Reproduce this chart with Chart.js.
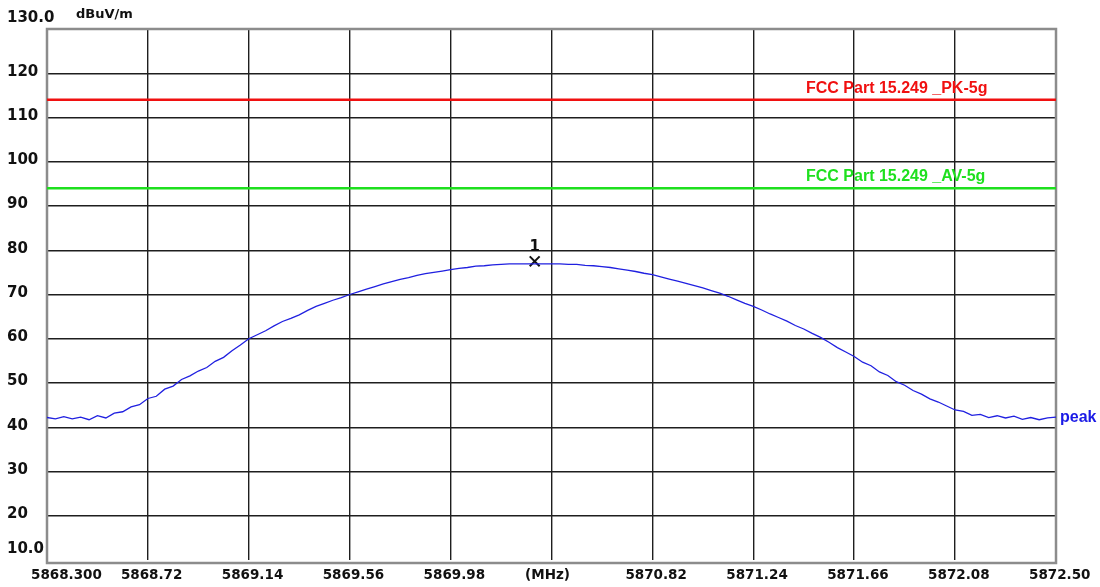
<!DOCTYPE html>
<html>
<head>
<meta charset="utf-8">
<script src="https://cdn.jsdelivr.net/npm/chart.js@4.4.1/dist/chart.umd.min.js"></script>
<style>
body{margin:0;background:#fff;}
canvas{display:block;}
</style>
</head>
<body>
<canvas id="plot" width="1100" height="587"></canvas>
<script>
// sweep: start freq + step (MHz), levels (dBuV/m)
var freqStart = 5868.3;
var freqStep = 0.035;
var level = [
 42.2,41.9,42.4,41.9,42.3,41.7,42.6,42.1,43.2,43.5,
 44.6,45.1,46.5,47.0,48.6,49.3,50.8,51.6,52.7,53.5,
 54.9,55.8,57.3,58.6,60.0,60.9,61.8,62.9,63.9,64.6,
 65.4,66.4,67.3,68.0,68.7,69.3,70.0,70.6,71.2,71.8,
 72.4,72.9,73.4,73.8,74.3,74.7,75.0,75.3,75.6,75.9,
 76.1,76.4,76.5,76.7,76.8,76.9,76.9,76.9,76.9,76.9,
 76.9,76.9,76.8,76.8,76.6,76.5,76.3,76.1,75.8,75.5,
 75.2,74.8,74.5,74.0,73.5,73.0,72.5,72.0,71.5,70.9,
 70.3,69.6,68.8,68.0,67.3,66.5,65.6,64.8,64.0,63.0,
 62.2,61.2,60.3,59.2,58.0,57.0,56.0,54.7,53.9,52.5,
 51.7,50.3,49.5,48.3,47.5,46.4,45.7,44.8,43.9,43.6,
 42.7,42.9,42.2,42.6,42.1,42.5,41.8,42.2,41.7,42.1,
 42.3
];

var xTicks = [5868.30,5868.72,5869.14,5869.56,5869.98,5870.40,5870.82,5871.24,5871.66,5872.08,5872.50];
var xTickLabels = ['5868.300','5868.72','5869.14','5869.56','5869.98','(MHz)','5870.82','5871.24','5871.66','5872.08','5872.50'];
var yTicks = [10,20,30,40,50,60,70,80,90,100,110,120,130];
var yTickLabels = ['10.0','20','30','40','50','60','70','80','90','100','110','120','130.0'];

var limitPK = 114;
var limitAV = 94;
var limitPKName = 'FCC Part 15.249 _PK-5g';
var limitAVName = 'FCC Part 15.249 _AV-5g';
var markerFreq = 5870.33;
var markerLevel = 77.5;

var xMin = xTicks[0], xMax = xTicks[xTicks.length-1];

var trace = [];
for(var i=0;i<level.length;i++){
	trace.push({x:freqStart+i*freqStep, y:level[i]});
}

function edgeGrid(c){
	return (c.index===0 || c.index===c.chart.scales[c.scale.axis].ticks.length-1) ? 'rgba(0,0,0,0)' : '#1e1e1e';
}

var textPlugin = {
	id:'texts',
	beforeDatasetsDraw:function(chart){
		var a = chart.chartArea, c = chart.ctx;
		c.save();
		c.strokeStyle = '#8c8c8c';
		c.lineWidth = 2.5;
		c.strokeRect(a.left, a.top, a.right-a.left, a.bottom-a.top+3);
		c.restore();
	},
	afterDraw:function(chart){
		var c = chart.ctx, xs = chart.scales.x, ys = chart.scales.y;
		c.save();
		c.fillStyle = '#111';
		c.textBaseline = 'middle';
		// y labels
		c.font = 'bold 15px "DejaVu Sans"';
		c.textAlign = 'left';
		for(var i=0;i<yTicks.length;i++){
			var py = ys.getPixelForValue(yTicks[i]);
			if(i===0 || i===yTicks.length-1) py -= 11; else py -= 1.5;
			c.fillText(yTickLabels[i], 7, py);
		}
		c.font = 'bold 13px "DejaVu Sans"';
		c.fillText('dBuV/m', 76, 15);
		// x labels
		c.font = 'bold 13.5px "DejaVu Sans"';
		for(var j=0;j<xTicks.length;j++){
			var px = xs.getPixelForValue(xTicks[j]);
			if(j===0){ c.textAlign='left'; c.fillText(xTickLabels[j], 31, 575); }
			else if(xTickLabels[j]==='(MHz)'){ c.textAlign='center'; c.fillText(xTickLabels[j], px-4, 575); }
			else { c.textAlign='left'; c.fillText(xTickLabels[j], px-27, 575); }
		}
		// limit names
		c.textAlign = 'left';
		c.textBaseline = 'alphabetic';
		c.font = 'bold 16px "Liberation Sans"';
		c.fillStyle = '#f01010';
		c.fillText(limitPKName, 806, ys.getPixelForValue(limitPK)-7);
		c.fillStyle = '#1ee01e';
		c.fillText(limitAVName, 806, ys.getPixelForValue(limitAV)-7);
		// trace name
		c.font = 'bold 16px "Liberation Sans"';
		c.fillStyle = '#1a1ae6';
		c.fillText('peak', 1060, ys.getPixelForValue(level[level.length-1])+5);
		// marker number
		c.font = 'bold 15px "DejaVu Sans"';
		c.fillStyle = '#111';
		c.textAlign = 'center';
		c.textBaseline = 'middle';
		c.fillText('1', xs.getPixelForValue(markerFreq), ys.getPixelForValue(markerLevel)-14);
		c.restore();
	}
};

var chart = new Chart(document.getElementById('plot').getContext('2d'),{
	type:'scatter',
	data:{
		datasets:[{
			label:'peak',
			data:trace,
			showLine:true,
			borderColor:'#2020e0',
			borderWidth:1.3,
			pointRadius:0,
			tension:0
		},
		{
			label:limitPKName,
			data:[{x:xMin,y:limitPK},{x:xMax,y:limitPK}],
			showLine:true,
			borderColor:'#f01010',
			borderWidth:2.5,
			pointRadius:0
		},
		{
			label:limitAVName,
			data:[{x:xMin,y:limitAV},{x:xMax,y:limitAV}],
			showLine:true,
			borderColor:'#1ee01e',
			borderWidth:2.5,
			pointRadius:0
		},
		{
			label:'marker 1',
			data:[{x:markerFreq,y:markerLevel}],
			showLine:false,
			pointStyle:'crossRot',
			pointRadius:7,
			borderColor:'#111',
			borderWidth:2
		}]
	},
	options:{
		responsive:false,
		animation:false,
		devicePixelRatio:1,
		layout:{padding:{left:47,right:44,top:29,bottom:27}},
		plugins:{legend:{display:false},tooltip:{enabled:false}},
		scales:{
			x:{
				type:'linear',
				min:xMin,
				max:xMax,
				afterBuildTicks:function(s){ s.ticks = xTicks.map(function(v){return {value:v};}); },
				ticks:{display:false},
				grid:{color:edgeGrid,lineWidth:1.4,drawTicks:false},
				border:{display:false}
			},
			y:{
				min:10,
				max:130,
				afterBuildTicks:function(s){ s.ticks = yTicks.map(function(v){return {value:v};}); },
				ticks:{display:false},
				grid:{color:edgeGrid,lineWidth:1.4,drawTicks:false},
				border:{display:false}
			}
		}
	},
	plugins:[textPlugin]
});
</script>
</body>
</html>
